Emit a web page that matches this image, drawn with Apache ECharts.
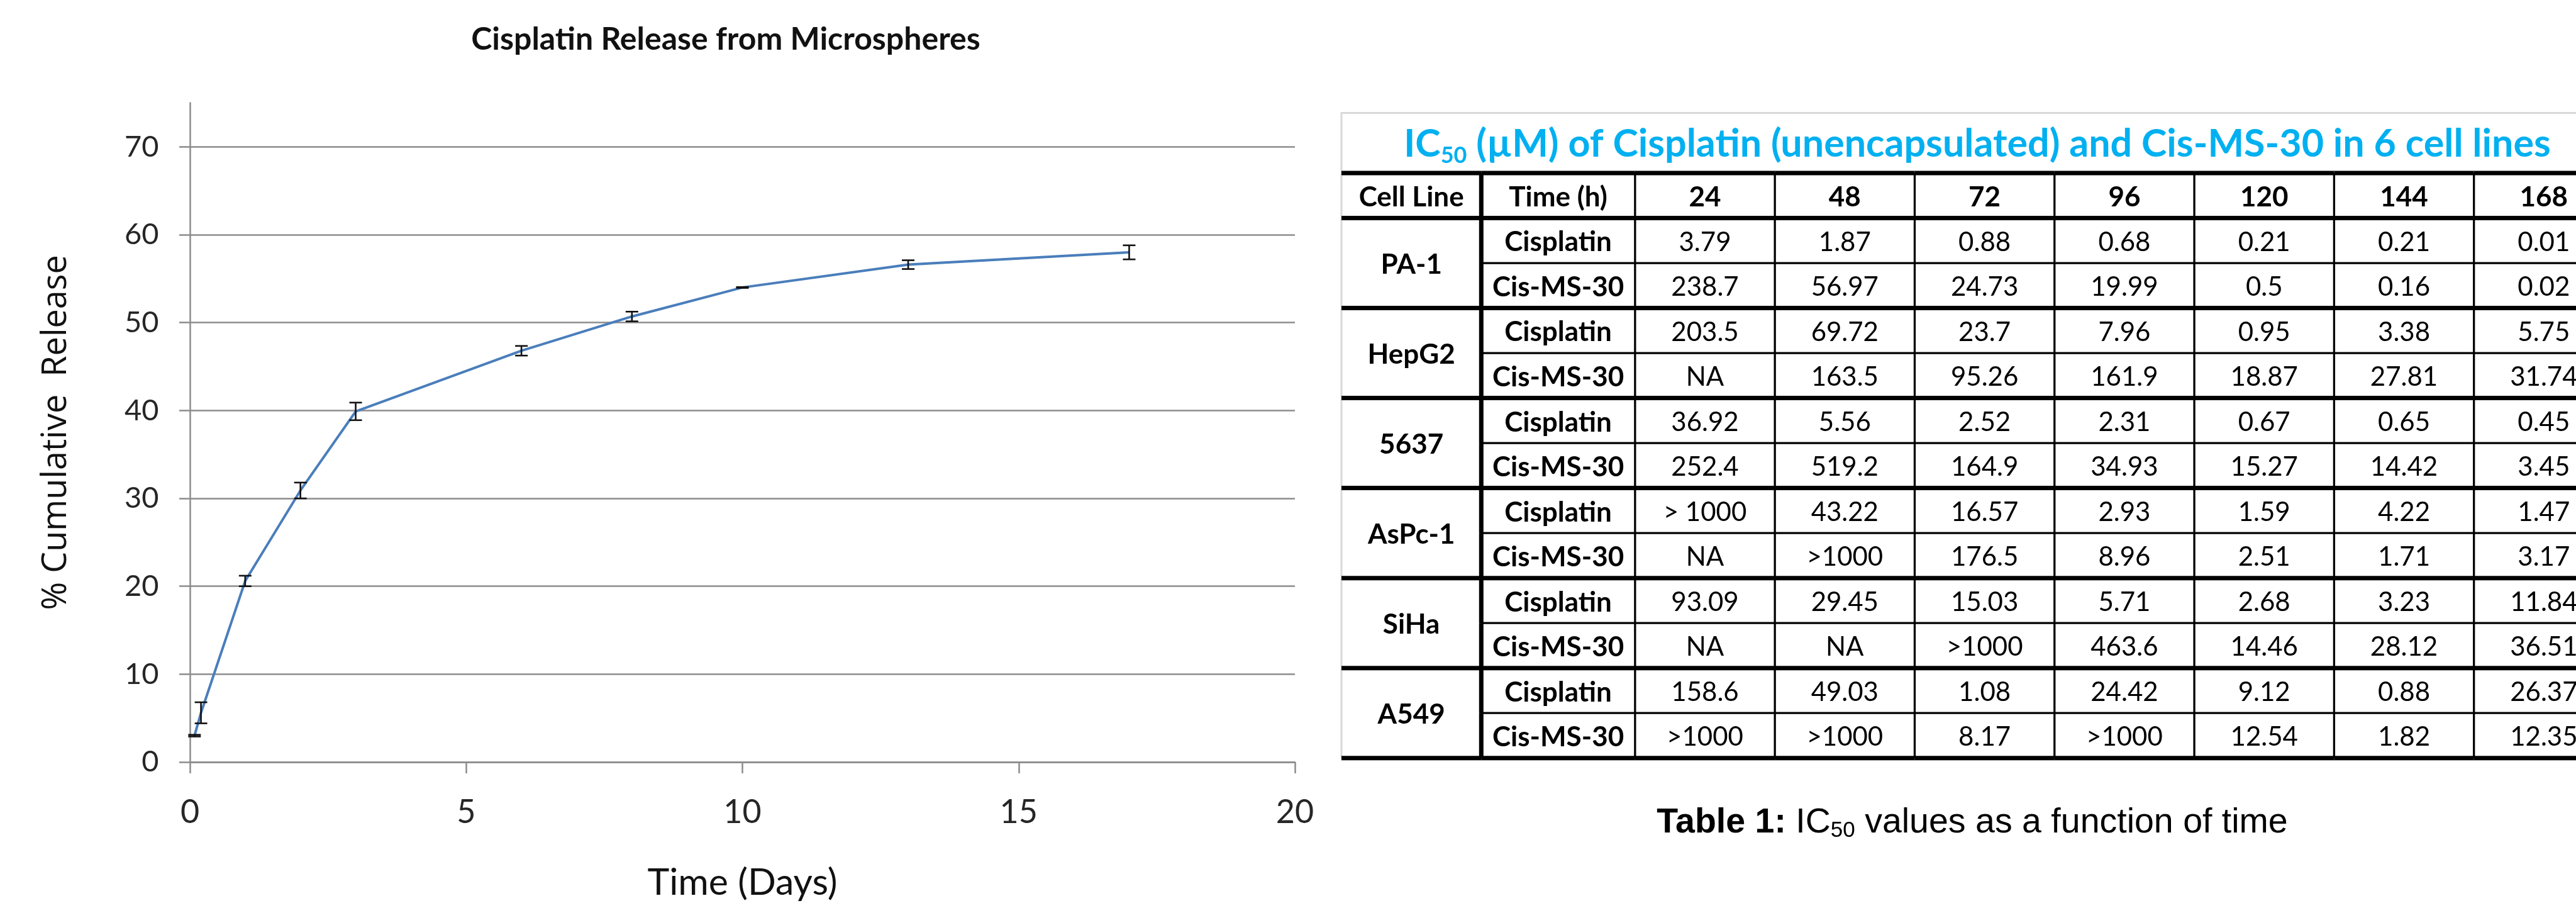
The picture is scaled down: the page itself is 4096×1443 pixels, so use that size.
<!DOCTYPE html>
<html>
<head>
<meta charset="utf-8">
<script src="https://cdn.jsdelivr.net/npm/echarts@6/dist/echarts.min.js"></script>
<style>
  html, body { margin: 0; padding: 0; background: #ffffff; }
  #chart { width: 4096px; height: 1443px; }
</style>
</head>
<body>
<div id="chart"></div>
<script>
// ---- Cumulative release profile ----
const releaseDays = [0.083, 0.2, 1, 2, 3, 6, 8, 10, 13, 17];
const releasePct  = [3.0, 5.6, 20.6, 30.9, 39.9, 46.8, 50.7, 54.0, 56.6, 58.0];
const releaseErr  = [0.1, 1.2, 0.6, 0.9, 1.0, 0.55, 0.55, 0.05, 0.5, 0.8];
const xTicks = [0, 5, 10, 15, 20];
const yTicks = [0, 10, 20, 30, 40, 50, 60, 70];

// ---- IC50 table (µM) ----
const timePoints = ['24', '48', '72', '96', '120', '144', '168'];
const cellLines  = ['PA-1', 'HepG2', '5637', 'AsPc-1', 'SiHa', 'A549'];
const treatments = ['Cisplatin', 'Cis-MS-30'];
const pa1Cis     = ['3.79', '1.87', '0.88', '0.68', '0.21', '0.21', '0.01'];
const pa1Ms      = ['238.7', '56.97', '24.73', '19.99', '0.5', '0.16', '0.02'];
const hepg2Cis   = ['203.5', '69.72', '23.7', '7.96', '0.95', '3.38', '5.75'];
const hepg2Ms    = ['NA', '163.5', '95.26', '161.9', '18.87', '27.81', '31.74'];
const c5637Cis   = ['36.92', '5.56', '2.52', '2.31', '0.67', '0.65', '0.45'];
const c5637Ms    = ['252.4', '519.2', '164.9', '34.93', '15.27', '14.42', '3.45'];
const aspc1Cis   = ['> 1000', '43.22', '16.57', '2.93', '1.59', '4.22', '1.47'];
const aspc1Ms    = ['NA', '>1000', '176.5', '8.96', '2.51', '1.71', '3.17'];
const sihaCis    = ['93.09', '29.45', '15.03', '5.71', '2.68', '3.23', '11.84'];
const sihaMs     = ['NA', 'NA', '>1000', '463.6', '14.46', '28.12', '36.51'];
const a549Cis    = ['158.6', '49.03', '1.08', '24.42', '9.12', '0.88', '26.37'];
const a549Ms     = ['>1000', '>1000', '8.17', '>1000', '12.54', '1.82', '12.35'];
const tableRows = [
  [pa1Cis, pa1Ms], [hepg2Cis, hepg2Ms], [c5637Cis, c5637Ms],
  [aspc1Cis, aspc1Ms], [sihaCis, sihaMs], [a549Cis, a549Ms]
];

// ---- table layout helpers (column 1 is a little wider) ----
const TIME_COL_EXTRA = 0.1;
const colLeft  = c => (c <= 1 ? c : c + TIME_COL_EXTRA);
const colRight = c => (c === 0 ? 1 : c + 1 + TIME_COL_EXTRA);
const N_ROWS = 1 + cellLines.length * treatments.length;
const N_COLS_EXTENT = 2 + timePoints.length + TIME_COL_EXTRA;

const cells = [];
function addCell(col, row, rowSpan, text, bold) {
  cells.push({ value: [colLeft(col), row, colRight(col), row + rowSpan], text: text, bold: bold });
}
addCell(0, 0, 1, 'Cell Line', true);
addCell(1, 0, 1, 'Time (h)', true);
timePoints.forEach((t, i) => addCell(2 + i, 0, 1, t, true));
cellLines.forEach((name, g) => {
  const r0 = 1 + g * 2;
  addCell(0, r0, 2, name, true);
  treatments.forEach((tr, k) => {
    addCell(1, r0 + k, 1, tr, true);
    tableRows[g][k].forEach((v, i) => addCell(2 + i, r0 + k, 1, v, false));
  });
});

const GRID_COLOR = '#8c8c8c';
const TABLE_FONT = 'Lato';
const THICK = 7;
const THIN = 3.3;

// one table cell: its text, top and left rules (plus the closing bottom rule)
function renderCell(params, api) {
  const cell = cells[params.dataIndex];
  const x0 = api.value(0), y0 = api.value(1), x1 = api.value(2), y1 = api.value(3);
  const p0 = api.coord([x0, y0]);
  const p1 = api.coord([x1, y1]);
  const children = [];
  const topW = (y0 === 0 || y0 % 2 === 1) ? THICK : THIN;
  children.push({ type: 'line', shape: { x1: p0[0], y1: p0[1], x2: p1[0], y2: p0[1] },
                  style: { stroke: '#000', lineWidth: topW } });
  if (x0 > 0) {
    children.push({ type: 'line', shape: { x1: p0[0], y1: p0[1], x2: p0[0], y2: p1[1] },
                    style: { stroke: '#000', lineWidth: x0 === 1 ? THICK : THIN } });
  }
  if (y1 === N_ROWS) {
    children.push({ type: 'line', shape: { x1: p0[0], y1: p1[1], x2: p1[0], y2: p1[1] },
                    style: { stroke: '#000', lineWidth: THICK } });
  }
  children.push({
    type: 'text',
    style: {
      x: (p0[0] + p1[0]) / 2, y: (p0[1] + p1[1]) / 2 + 3,
      text: cell.text,
      align: 'center', verticalAlign: 'middle',
      textAlign: 'center', textVerticalAlign: 'middle',
      fontFamily: TABLE_FONT,
      fontSize: cell.bold ? 44 : 42,
      fontWeight: cell.bold ? 'bold' : 'normal',
      fill: '#000'
    }
  });
  return { type: 'group', children: children };
}

// vertical error bar with caps
function renderErrorBar(params, api) {
  const x = api.value(0);
  const lo = api.coord([x, api.value(1)]);
  const hi = api.coord([x, api.value(2)]);
  const half = 10;
  const st = { stroke: '#111', lineWidth: 2.6 };
  return {
    type: 'group',
    children: [
      { type: 'line', shape: { x1: lo[0], y1: lo[1], x2: hi[0], y2: hi[1] }, style: st },
      { type: 'line', shape: { x1: lo[0] - half, y1: lo[1], x2: lo[0] + half, y2: lo[1] }, style: st },
      { type: 'line', shape: { x1: hi[0] - half, y1: hi[1], x2: hi[0] + half, y2: hi[1] }, style: st }
    ]
  };
}

const chart = echarts.init(document.getElementById('chart'), null, { renderer: 'canvas' });

const option = {
  animation: false,
  backgroundColor: '#ffffff',
  grid: [
    { left: 302, right: 2037, top: 163.6, bottom: 232, outerBoundsMode: 'none', containLabel: false },
    { left: 2133, right: -60, top: 275, bottom: 238.3, outerBoundsMode: 'none', containLabel: false }
  ],
  xAxis: [
    {
      gridIndex: 0, type: 'value', min: 0, max: 20, interval: 5,
      axisLine: { show: true, lineStyle: { color: GRID_COLOR, width: 2.5 } },
      axisTick: { show: true, length: 18, inside: false, customValues: xTicks,
                  lineStyle: { color: GRID_COLOR, width: 2.5 } },
      axisLabel: { show: true, customValues: xTicks, margin: 54, fontFamily: 'Lato',
                   fontSize: 52, color: '#262626' },
      splitLine: { show: false },
      name: 'Time (Days)', nameLocation: 'middle', nameGap: 162,
      nameTextStyle: { fontFamily: 'Lato', fontSize: 59, color: '#111' }
    },
    { gridIndex: 1, type: 'value', min: 0, max: N_COLS_EXTENT, show: false }
  ],
  yAxis: [
    {
      gridIndex: 0, type: 'value', min: 0, max: 75,
      axisLine: { show: true, lineStyle: { color: GRID_COLOR, width: 2.5 } },
      axisTick: { show: true, length: 17, inside: false, customValues: yTicks,
                  lineStyle: { color: GRID_COLOR, width: 2.5 } },
      axisLabel: { show: true, customValues: yTicks, margin: 49.5, fontFamily: 'Lato',
                   fontSize: 47, color: '#262626' },
      splitLine: { show: true, lineStyle: { color: GRID_COLOR, width: 2.5 } },
      name: '% Cumulative  Release', nameLocation: 'middle', nameGap: 185, nameRotate: 90,
      nameTextStyle: { fontFamily: 'Open Sans', fontSize: 54, color: '#111' }
    },
    { gridIndex: 1, type: 'value', min: 0, max: N_ROWS, inverse: true, show: false }
  ],
  series: [
    {
      name: 'release', type: 'line', xAxisIndex: 0, yAxisIndex: 0,
      data: releaseDays.map((d, i) => [d, releasePct[i]]),
      symbol: 'none', smooth: false,
      lineStyle: { color: '#4a7ebb', width: 4 },
      z: 2
    },
    {
      name: 'sd', type: 'custom', xAxisIndex: 0, yAxisIndex: 0,
      data: releaseDays.map((d, i) => [d, releasePct[i] - releaseErr[i], releasePct[i] + releaseErr[i]]),
      encode: { x: 0, y: [1, 2] },
      renderItem: renderErrorBar,
      z: 3
    },
    {
      name: 'ic50', type: 'custom', xAxisIndex: 1, yAxisIndex: 1,
      data: cells.map(c => c.value),
      encode: { x: [0, 2], y: [1, 3] },
      renderItem: renderCell,
      clip: false,
      z: 2
    }
  ],
  graphic: [
    {
      type: 'text', x: 1154, y: 63, z: 10,
      style: {
        text: 'Cisplatin Release from Microspheres',
        align: 'center', verticalAlign: 'middle', textAlign: 'center', textVerticalAlign: 'middle',
        fontFamily: 'Lato', fontWeight: 'bold', fontSize: 50, fill: '#111'
      }
    },
    {
      type: 'rect', z: 1,
      shape: { x: 2133, y: 179.5, width: 2100, height: 1025 },
      style: { fill: null, stroke: '#d9d9d9', lineWidth: 3 }
    },
    {
      type: 'text', x: 3144, y: 229, z: 10,
      style: {
        text: 'IC{sub|50} (µM) of Cisplatin (unencapsulated) and Cis-MS-30 in 6 cell lines',
        align: 'center', verticalAlign: 'middle', textAlign: 'center', textVerticalAlign: 'middle',
        fontFamily: 'Lato', fontWeight: 'bold', fontSize: 61, lineHeight: 72, fill: '#00b0f0',
        rich: {
          sub: { fontFamily: 'Lato', fontWeight: 'bold', fontSize: 36, lineHeight: 30,
                 verticalAlign: 'bottom', fill: '#00b0f0' }
        }
      }
    },
    {
      type: 'text', x: 3136, y: 1308, z: 10,
      style: {
        text: '{b|Table 1:} IC{sub|50} values as a function of time',
        align: 'center', verticalAlign: 'middle', textAlign: 'center', textVerticalAlign: 'middle',
        fontFamily: 'Liberation Sans', fontSize: 55.5, lineHeight: 60, fill: '#000',
        rich: {
          b: { fontFamily: 'Liberation Sans', fontWeight: 'bold', fontSize: 55.5, lineHeight: 60, fill: '#000' },
          sub: { fontFamily: 'Liberation Sans', fontSize: 35, lineHeight: 14, verticalAlign: 'bottom', fill: '#000' }
        }
      }
    }
  ]
};

chart.setOption(option);
</script>
</body>
</html>
